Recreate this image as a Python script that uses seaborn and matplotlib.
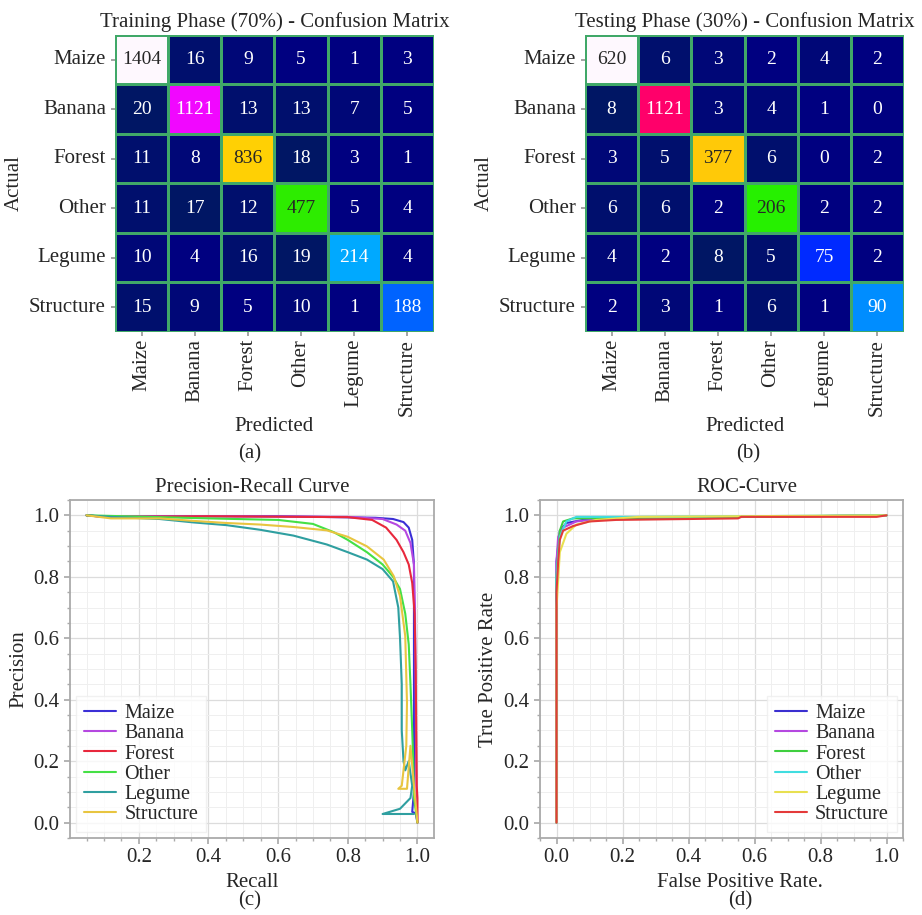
import numpy as np
import pandas as pd
import seaborn as sns
import matplotlib.pyplot as plt
from matplotlib.ticker import MultipleLocator

sns.set_theme(style="ticks")
plt.rcParams["font.family"] = ["Liberation Serif", "DejaVu Serif"]
plt.rcParams["font.size"] = 15

classes = ["Maize", "Banana", "Forest", "Other", "Legume", "Structure"]

# confusion matrices (rows = actual, cols = predicted)
train_counts = [
    [1404, 16, 9, 5, 1, 3],
    [20, 1121, 13, 13, 7, 5],
    [11, 8, 836, 18, 3, 1],
    [11, 17, 12, 477, 5, 4],
    [10, 4, 16, 19, 214, 4],
    [15, 9, 5, 10, 1, 188],
]
test_counts = [
    [620, 6, 3, 2, 4, 2],
    [8, 1121, 3, 4, 1, 0],
    [3, 5, 377, 6, 0, 2],
    [6, 6, 2, 206, 2, 2],
    [4, 2, 8, 5, 75, 2],
    [2, 3, 1, 6, 1, 90],
]
test_shading = [
    [620, 6, 3, 2, 4, 2],
    [8, 470, 3, 4, 1, 0],
    [3, 5, 377, 6, 0, 2],
    [6, 6, 2, 206, 2, 2],
    [4, 2, 8, 5, 75, 2],
    [2, 3, 1, 6, 1, 90],
]

# precision-recall curves (recall, precision)
pr_recall = {
    "Maize": [0.05, 0.10, 0.30, 0.60, 0.88, 0.93, 0.96, 0.975, 0.985, 0.99, 0.99, 0.99, 0.985, 0.995, 1.0],
    "Banana": [0.05, 0.10, 0.40, 0.80, 0.90, 0.94, 0.965, 0.98, 0.99, 0.993, 0.995, 0.997, 1.0],
    "Forest": [0.05, 0.10, 0.40, 0.80, 0.87, 0.91, 0.94, 0.96, 0.975, 0.985, 0.992, 0.995, 0.997, 0.998, 1.0, 1.0],
    "Other": [0.05, 0.12, 0.40, 0.60, 0.70, 0.76, 0.80, 0.855, 0.90, 0.93, 0.95, 0.965, 0.975, 0.98, 0.985, 0.988, 0.99, 1.0],
    "Legume": [0.05, 0.12, 0.26, 0.356, 0.452, 0.548, 0.644, 0.74, 0.80, 0.855, 0.90, 0.93, 0.945, 0.95,
               0.955, 0.955, 0.96, 0.965, 0.975, 0.985, 0.98, 0.95, 0.90, 0.99],
    "Structure": [0.05, 0.12, 0.26, 0.356, 0.452, 0.548, 0.644, 0.74, 0.80, 0.855, 0.903, 0.932, 0.95, 0.965,
                  0.97, 0.968, 0.96, 0.955, 0.945, 0.97, 0.98, 0.99, 1.0],
}
pr_precision = {
    "Maize": [1.0, 0.995, 0.997, 0.997, 0.992, 0.988, 0.978, 0.96, 0.92, 0.84, 0.40, 0.10, 0.035, 0.03, 0.0],
    "Banana": [1.0, 0.995, 0.997, 0.995, 0.988, 0.97, 0.95, 0.91, 0.84, 0.70, 0.40, 0.10, 0.0],
    "Forest": [1.0, 0.995, 0.997, 0.994, 0.985, 0.96, 0.92, 0.88, 0.84, 0.78, 0.68, 0.50, 0.25, 0.12, 0.08, 0.0],
    "Other": [1.0, 0.998, 0.99, 0.985, 0.972, 0.945, 0.92, 0.88, 0.84, 0.80, 0.76, 0.68, 0.58, 0.45, 0.30, 0.20, 0.08, 0.0],
    "Legume": [1.0, 0.995, 0.988, 0.977, 0.968, 0.953, 0.934, 0.905, 0.88, 0.856, 0.825, 0.785, 0.70, 0.60,
               0.45, 0.30, 0.20, 0.17, 0.20, 0.12, 0.08, 0.045, 0.028, 0.028],
    "Structure": [1.0, 0.99, 0.99, 0.982, 0.975, 0.97, 0.962, 0.951, 0.93, 0.899, 0.856, 0.802, 0.737, 0.607,
                  0.39, 0.25, 0.17, 0.12, 0.11, 0.11, 0.25, 0.12, 0.0],
}
pr_colors = {"Maize": "#3b2fd6", "Banana": "#b548e0", "Forest": "#e8283c",
             "Other": "#45e045", "Legume": "#2f9fa0", "Structure": "#e8c540"}

# ROC curves (fpr, tpr)
roc_fpr = {
    "Maize": [0.0, 0.0, 0.01, 0.03, 0.08, 0.15, 0.60, 1.0],
    "Banana": [0.0, 0.0, 0.005, 0.02, 0.06, 0.15, 1.0],
    "Forest": [0.0, 0.0, 0.01, 0.02, 0.05, 0.55, 1.0],
    "Other": [0.0, 0.0, 0.01, 0.03, 0.06, 0.25, 1.0],
    "Legume": [0.0, 0.0, 0.01, 0.03, 0.06, 0.12, 0.25, 1.0],
    "Structure": [0.0, 0.0, 0.005, 0.01, 0.02, 0.05, 0.10, 0.18, 0.55, 0.56, 0.97, 1.0],
}
roc_tpr = {
    "Maize": [0.0, 0.85, 0.95, 0.975, 0.985, 0.99, 0.995, 1.0],
    "Banana": [0.0, 0.85, 0.93, 0.96, 0.98, 0.99, 1.0],
    "Forest": [0.0, 0.80, 0.95, 0.98, 0.99, 0.995, 1.0],
    "Other": [0.0, 0.80, 0.93, 0.98, 0.995, 0.995, 1.0],
    "Legume": [0.0, 0.70, 0.88, 0.94, 0.97, 0.985, 0.995, 1.0],
    "Structure": [0.0, 0.75, 0.85, 0.92, 0.95, 0.965, 0.98, 0.985, 0.99, 0.995, 0.995, 1.0],
}
roc_colors = {"Maize": "#3a2fd0", "Banana": "#b548e0", "Forest": "#3fcf3f",
              "Other": "#40dde0", "Legume": "#e8e050", "Structure": "#e43a3a"}

fig = plt.figure(figsize=(9.22, 9.15), dpi=100)

ax_a = fig.add_axes([0.1247, 0.6372, 0.346, 0.3246])
ax_b = fig.add_axes([0.6345, 0.6372, 0.346, 0.3246])
ax_c = fig.add_axes([0.0759, 0.0842, 0.3948, 0.3694])
ax_d = fig.add_axes([0.5857, 0.0842, 0.3937, 0.3694])


def draw_cm(ax, shade, labels, title):
    sns.heatmap(np.array(shade), annot=np.array(labels), fmt="d", cmap="gist_ncar",
                vmin=0, vmax=np.max(shade), cbar=False, linewidths=0.9, linecolor="#40a868",
                xticklabels=classes, yticklabels=classes, annot_kws={"size": 14}, ax=ax)
    ax.set_title(title, fontsize=15, pad=6)
    ax.set_xlabel("Predicted", fontsize=15, labelpad=1)
    ax.set_ylabel("Actual", fontsize=15)
    ax.tick_params(axis="x", rotation=90, labelsize=15, length=3, pad=2, color="#999999")
    ax.tick_params(axis="y", rotation=0, labelsize=15, length=3, color="#999999")


draw_cm(ax_a, train_counts, train_counts, "Training Phase (70%) - Confusion Matrix")
draw_cm(ax_b, test_shading, test_counts, "Testing Phase (30%) - Confusion Matrix")


def long_frame(xd, yd, xname, yname):
    rows = []
    for c in classes:
        for i, (x, y) in enumerate(zip(xd[c], yd[c])):
            rows.append({"class": c, "order": i, xname: x, yname: y})
    return pd.DataFrame(rows)


def style_curve_ax(ax):
    ax.set_facecolor("white")
    ax.xaxis.set_major_locator(MultipleLocator(0.2))
    ax.yaxis.set_major_locator(MultipleLocator(0.2))
    ax.xaxis.set_minor_locator(MultipleLocator(0.05))
    ax.yaxis.set_minor_locator(MultipleLocator(0.05))
    ax.grid(True, which="major", color="#dcdcdc", linewidth=0.9)
    ax.grid(True, which="minor", color="#efefef", linewidth=0.7)
    ax.set_axisbelow(True)
    for s in ax.spines.values():
        s.set_color("#aaaaaa")
        s.set_linewidth(1.3)
    ax.tick_params(which="major", direction="out", length=4, color="#aaaaaa", labelsize=15)
    ax.tick_params(which="minor", direction="out", length=2, color="#aaaaaa")


legend_kw = dict(title=None, fontsize=14.5, frameon=True, labelspacing=0.05, handlelength=1.6,
                 handletextpad=0.4, borderaxespad=0.3, fancybox=False)

pr_df = long_frame(pr_recall, pr_precision, "Recall", "Precision")
sns.lineplot(data=pr_df, x="Recall", y="Precision", hue="class", palette=pr_colors,
             sort=False, estimator=None, linewidth=1.5, ax=ax_c)
style_curve_ax(ax_c)
ax_c.set_title("Precision-Recall Curve", fontsize=15, pad=6)
ax_c.set_xlabel("Recall", fontsize=15)
ax_c.set_ylabel("Precision", fontsize=15)
sns.move_legend(ax_c, "lower left", **legend_kw)
ax_c.get_legend().get_frame().set_edgecolor("#eeeeee")

roc_df = long_frame(roc_fpr, roc_tpr, "False Positive Rate.", "True Positive Rate")
sns.lineplot(data=roc_df, x="False Positive Rate.", y="True Positive Rate", hue="class",
             palette=roc_colors, sort=False, estimator=None, linewidth=1.5, ax=ax_d)
style_curve_ax(ax_d)
ax_d.set_title("ROC-Curve", fontsize=15, pad=6, x=0.57)
ax_d.set_xlabel("False Positive Rate.", fontsize=15, x=0.55)
ax_d.set_ylabel("True Positive Rate", fontsize=15)
sns.move_legend(ax_d, "lower right", **legend_kw)
ax_d.get_legend().get_frame().set_edgecolor("#eeeeee")

fig.text(0.271, 0.504, "(a)", ha="center", va="center", fontsize=15)
fig.text(0.811, 0.504, "(b)", ha="center", va="center", fontsize=15)
fig.text(0.271, 0.016, "(c)", ha="center", va="center", fontsize=15)
fig.text(0.803, 0.016, "(d)", ha="center", va="center", fontsize=15)

fig.savefig("out.png", dpi=100)
